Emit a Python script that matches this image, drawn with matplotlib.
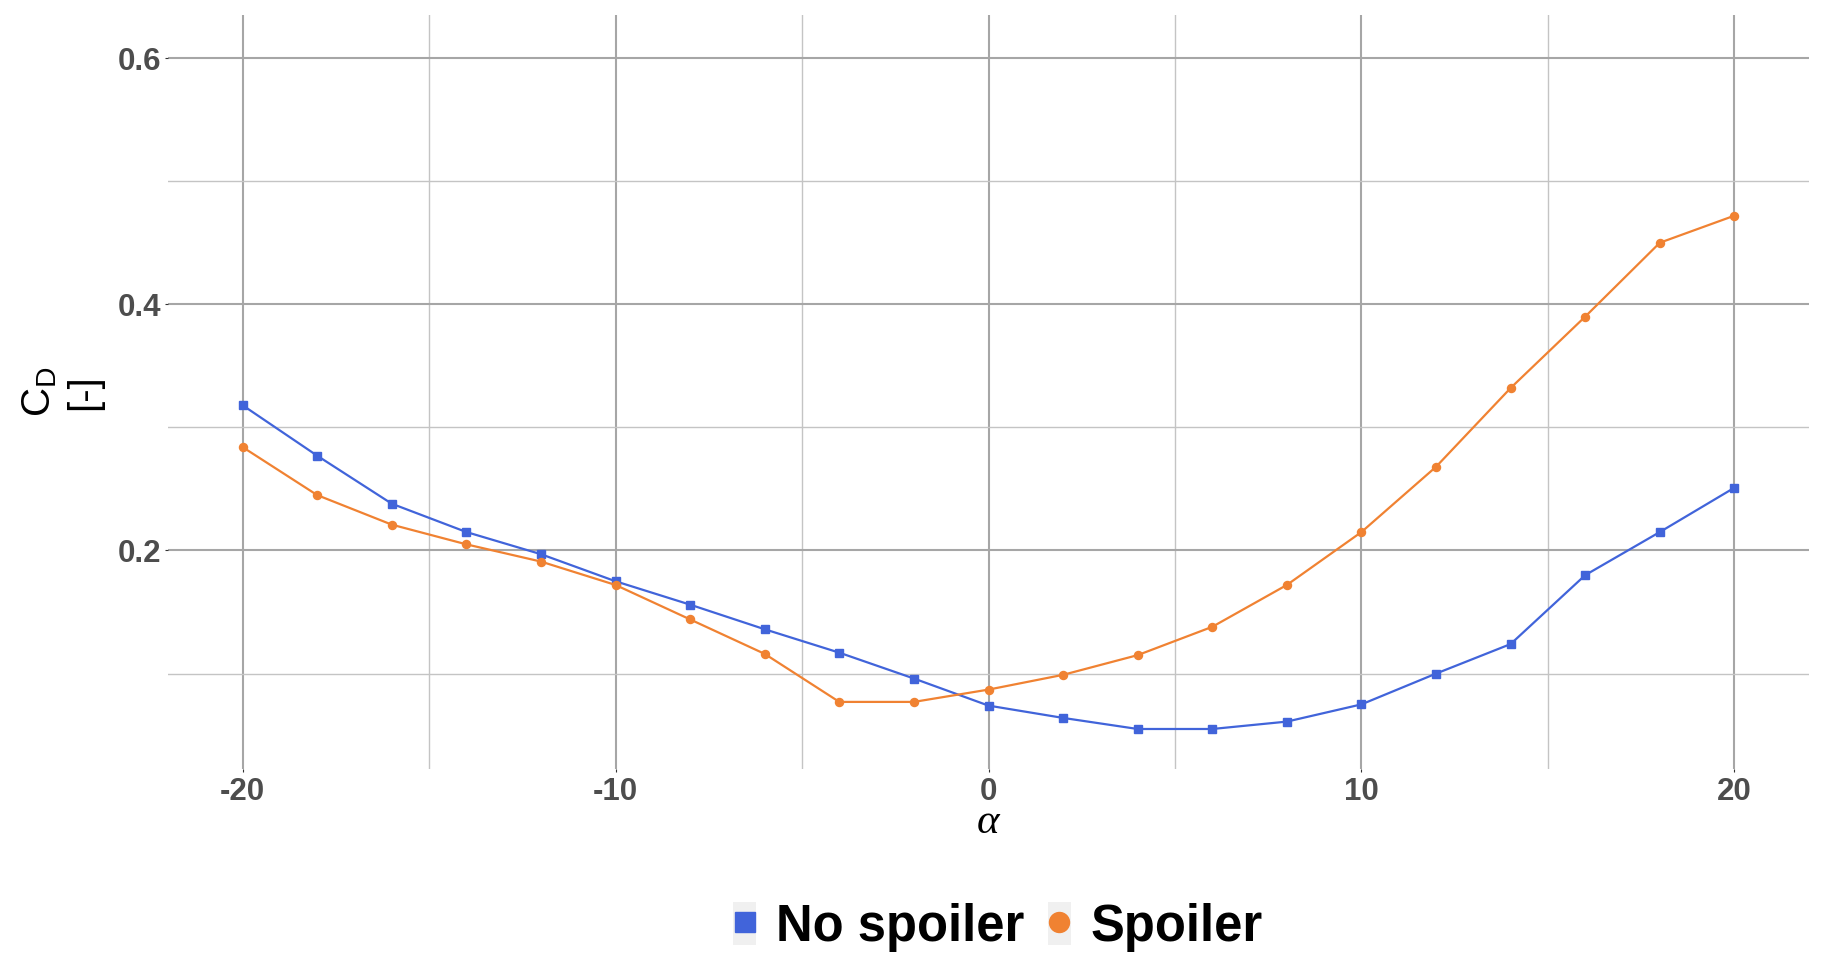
import matplotlib
matplotlib.use("Agg")
import matplotlib.pyplot as plt
from matplotlib.lines import Line2D
from matplotlib.patches import Rectangle
from matplotlib.legend_handler import HandlerTuple

# ---- data ----
alpha = [-20, -18, -16, -14, -12, -10, -8, -6, -4, -2, 0, 2, 4, 6, 8, 10, 12, 14, 16, 18, 20]
cd_no_spoiler = [0.318, 0.277, 0.238, 0.215, 0.197, 0.175, 0.156, 0.136, 0.117, 0.096,
                 0.074, 0.064, 0.055, 0.055, 0.061, 0.075, 0.100, 0.124, 0.180, 0.215, 0.251]
cd_spoiler = [0.284, 0.245, 0.221, 0.205, 0.191, 0.172, 0.144, 0.116, 0.077, 0.077,
              0.087, 0.099, 0.115, 0.138, 0.172, 0.215, 0.268, 0.332, 0.390, 0.450, 0.472]
series_names = ["No spoiler", "Spoiler"]
x_major = [-20, -10, 0, 10, 20]
x_minor = [-15, -5, 5, 15]
x_labels = ["-20", "-10", "0", "10", "20"]
y_major = [0.2, 0.4, 0.6]
y_minor = [0.1, 0.3, 0.5]
y_labels = ["0.2", "0.4", "0.6"]

BLUE = "#4164DA"
ORANGE = "#F08232"

plt.rcParams["font.family"] = ["Liberation Sans", "DejaVu Sans"]
plt.rcParams["axes.unicode_minus"] = False

W, H = 1825, 975
fig = plt.figure(figsize=(W / 100, H / 100), dpi=100)
ax = fig.add_axes([168 / W, 1 - 769 / H, (1809 - 168) / W, (769 - 15) / H])

ax.plot(alpha, cd_no_spoiler, color=BLUE, lw=1.6, marker="s", ms=5.8, zorder=3)
ax.plot(alpha, cd_spoiler, color=ORANGE, lw=1.6, marker="o", ms=5.8, zorder=3)

ax.set_xlim(-22, 22)
ax.set_ylim(0.0225, 0.635)

ax.set_xticks(x_major)
ax.set_xticks(x_minor, minor=True)
ax.set_xticklabels(x_labels)
ax.set_yticks(y_major)
ax.set_yticks(y_minor, minor=True)
ax.set_yticklabels(y_labels)

ax.grid(True, which="major", color="#a6a6a6", lw=1.5, zorder=0)
ax.grid(True, which="minor", color="#c4c4c4", lw=1.0, zorder=0)
ax.set_axisbelow(True)
for s in ax.spines.values():
    s.set_visible(False)

ax.tick_params(which="major", length=2.5, width=0.8, color="#333333",
               labelsize=22.5, labelcolor="#4d4d4d")
ax.tick_params(axis="x", which="major", pad=3.5)
ax.tick_params(axis="y", which="major", pad=2.5)
ax.tick_params(which="minor", length=0)
for lab in ax.get_xticklabels() + ax.get_yticklabels():
    lab.set_fontweight("bold")

# axis titles
fig.text(988 / W, 1 - 823 / H, "α", ha="center", va="center", fontsize=31,
         family=["Liberation Serif", "DejaVu Serif"], style="italic", color="black")
fig.text(62 / W, 1 - 392 / H, "$\\mathregular{C_D}$\n[-]", rotation=90,
         ha="center", va="center", fontsize=29, color="black",
         multialignment="center", linespacing=1.2)

# legend
bg = "#f0f0f0"
h1 = (Rectangle((0, 0), 1, 1, facecolor=bg, edgecolor="none"),
      Line2D([], [], color=BLUE, marker="s", ms=14.4, ls="none"))
h2 = (Rectangle((0, 0), 1, 1, facecolor=bg, edgecolor="none"),
      Line2D([], [], color=ORANGE, marker="o", ms=14.4, ls="none"))
fig.legend([h1, h2], series_names, loc="center", ncol=2, numpoints=1,
           bbox_to_anchor=(998 / W, 1 - 927 / H), frameon=False,
           handler_map={tuple: HandlerTuple(ndivide=1, pad=0)},
           prop={"size": 36.5, "weight": "bold"}, handlelength=0.45,
           handleheight=0.92, handletextpad=0.39, columnspacing=0.47,
           borderpad=0, borderaxespad=0)

fig.savefig("out.png", dpi=100, facecolor="white")
